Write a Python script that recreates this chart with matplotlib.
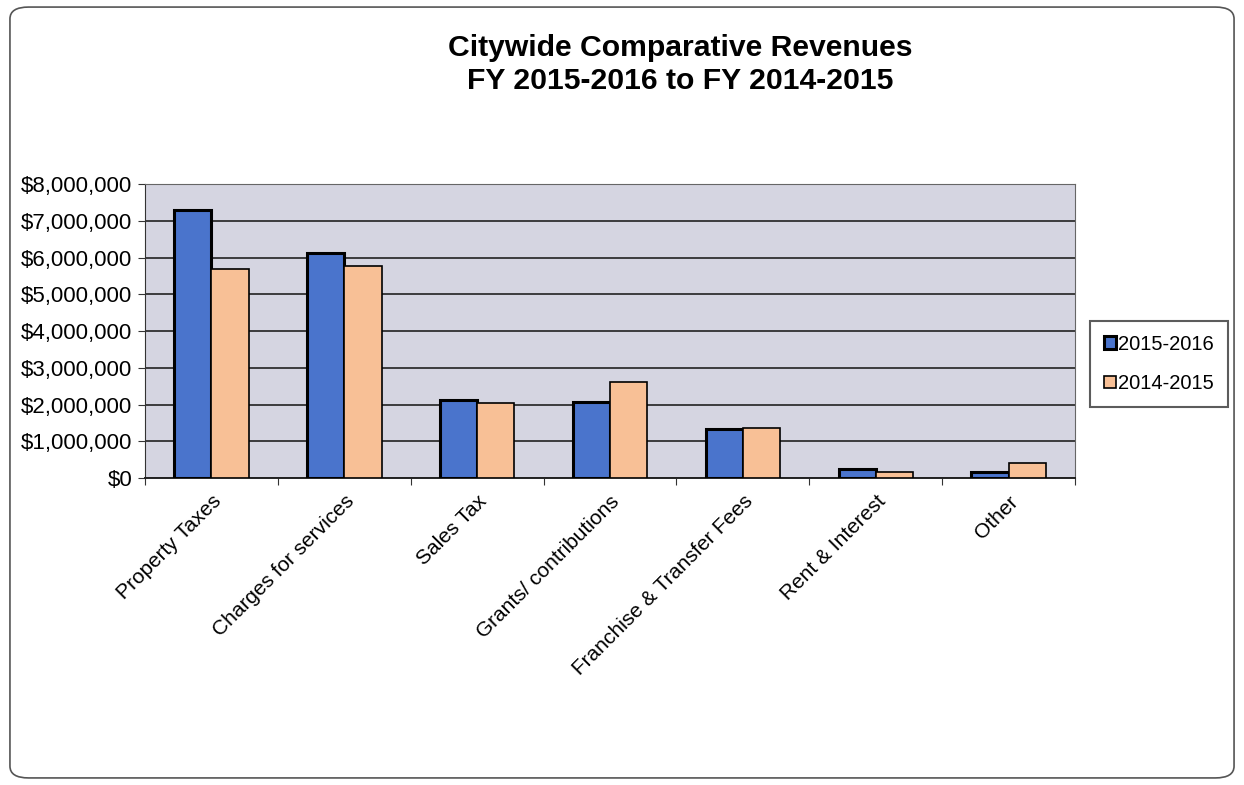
import matplotlib.pyplot as plt
import numpy as np
from matplotlib.patches import FancyBboxPatch
from matplotlib.ticker import FuncFormatter

categories = ["Property Taxes", "Charges for services", "Sales Tax",
              "Grants/ contributions", "Franchise & Transfer Fees",
              "Rent & Interest", "Other"]
fy_2015_2016 = [7290000, 6120000, 2120000, 2070000, 1330000, 250000, 160000]
fy_2014_2015 = [5690000, 5770000, 2040000, 2610000, 1360000, 160000, 410000]
series_labels = ["2015-2016", "2014-2015"]

plt.rcParams["font.family"] = ["Liberation Sans", "DejaVu Sans"]

fig = plt.figure(figsize=(12.44, 7.85), dpi=100)
fig.patch.set_facecolor("white")

# rounded frame round the whole chart
frame = FancyBboxPatch((0.008, 0.009), 0.984, 0.982,
                       boxstyle="round,pad=0,rounding_size=0.015",
                       transform=fig.transFigure, facecolor="none",
                       edgecolor="#555555", linewidth=1.2, zorder=-1)
fig.patches.append(frame)

ax = fig.add_axes([0.1166, 0.391, 0.7476, 0.3745])
ax.set_facecolor("#d5d5e1")

x = np.arange(len(categories))
w = 0.28
ax.bar(x - w / 2, fy_2015_2016, w, color="#4a74cc", edgecolor="black",
       linewidth=2.2, label=series_labels[0], zorder=3)
ax.bar(x + w / 2, fy_2014_2015, w, color="#f8c096", edgecolor="black",
       linewidth=1.2, label=series_labels[1], zorder=3)

ax.set_xlim(-0.5, len(categories) - 0.5)
ax.set_ylim(0, 8000000)
ax.set_yticks(np.arange(0, 8000001, 1000000))
ax.yaxis.set_major_formatter(FuncFormatter(lambda v, p: f"${v:,.0f}"))
ax.grid(axis="y", color="#222222", linewidth=1.2, zorder=1)

ax.set_xticks(np.arange(len(categories) + 1) - 0.5, minor=False)
ax.set_xticklabels([])
ax.set_xticks(x, minor=True)
ax.set_xticklabels(categories, minor=True, rotation=45, ha="right",
                   rotation_mode="anchor", fontsize=15)
ax.tick_params(axis="x", which="minor", length=0, pad=10)
ax.tick_params(axis="x", which="major", length=5, direction="out", color="#333333")
ax.tick_params(axis="y", labelsize=16, length=5, direction="out", color="#333333",
               pad=4)
for side in ["top", "right"]:
    ax.spines[side].set_color("#666666")
ax.spines["left"].set_color("#333333")
ax.spines["bottom"].set_color("#222222")
ax.spines["bottom"].set_linewidth(1.4)

fig.text(0.547, 0.918, "Citywide Comparative Revenues\nFY 2015-2016 to FY 2014-2015",
         ha="center", va="center", fontsize=21.7, fontweight="bold",
         linespacing=1.25)

leg = ax.legend(loc="center left", bbox_to_anchor=(1.016, 0.388), fontsize=14.5,
                frameon=True, fancybox=False, edgecolor="#333333",
                handlelength=0.6, handleheight=0.6, handletextpad=0.1,
                labelspacing=1.0, borderpad=0.7, borderaxespad=0)
leg.get_frame().set_linewidth(1.5)

fig.savefig("out.png", dpi=100)
